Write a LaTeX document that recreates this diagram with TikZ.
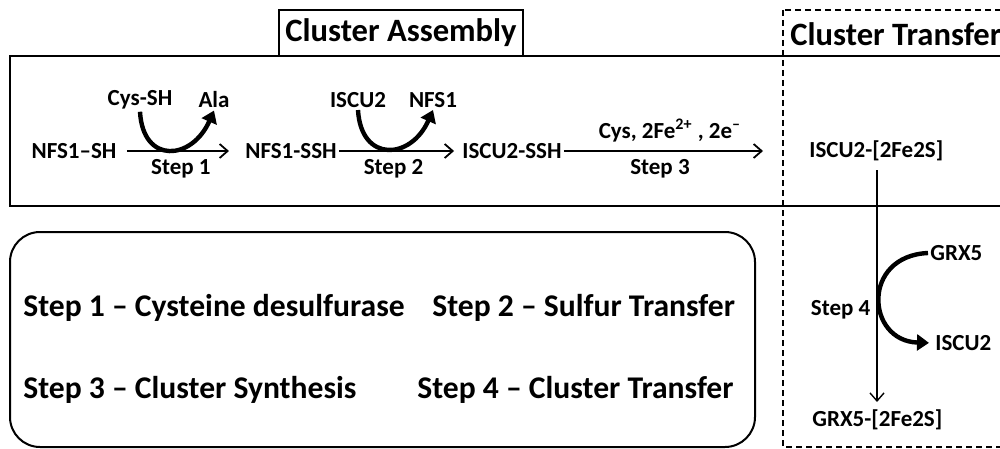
\documentclass[tikz,border=0pt]{standalone}
\usepackage{fontspec}
\setmainfont{Carlito}
\usetikzlibrary{arrows.meta,positioning}

\begin{document}
\begin{tikzpicture}[
  x=0.5pt,y=-0.5pt,
  every node/.style={font=\bfseries\fontsize{11.5}{13}\selectfont,inner sep=1pt},
  head/.style={font=\bfseries\fontsize{16.3}{19}\selectfont},
  key/.style={font=\bfseries\fontsize{15.8}{19}\selectfont,anchor=west,inner sep=0pt},
  frame/.style={draw,line width=1pt},
  rxn/.style={-{Straight Barb[length=4pt,width=7pt]},line width=0.9pt},
  swap/.style={-{Triangle[length=6pt,width=8pt]},line width=2.2pt}
]
\useasboundingbox (0,0) rectangle (1000,449);
\clip (0,0) rectangle (1000,449);

% panels
\draw[frame] (10,56) rectangle (1010,206);
\node[head,frame,minimum width=122pt,minimum height=23pt] (assembly) at (401,33) {Cluster Assembly};
\draw[line width=0.8pt,dash pattern=on 3pt off 2pt] (783,10) rectangle (1010,447);
\node[head,anchor=west] (transfer) at (788,34) {Cluster Transfer};

% cluster assembly
\node (nfsA) at (74,151) {NFS1--SH};
\node (nfsB) at (291,151) {NFS1-SSH};
\node (iscuA) at (512,151) {ISCU2-SSH};
\node[anchor=west] (iscuB) at (807,151) {ISCU2-[2Fe2S]};
\node (cys) at (140,100) {Cys-SH};
\node (ala) at (214,100) {Ala};
\node (iscuC) at (358,100) {ISCU2};
\node (nfsC) at (433,100) {NFS1};

\draw[rxn,shorten <=4pt,shorten >=7pt] (nfsA) -- node[below=3pt] (step1) {Step 1} (nfsB);
\draw[rxn,shorten <=0pt,shorten >=3pt] (nfsB) -- node[below=3pt,xshift=-3pt] (step2) {Step 2} (iscuA);
\draw[rxn,shorten >=22pt] (iscuA) -- node[above=3pt,xshift=-7.75pt] (metals) {Cys, 2Fe\textsuperscript{2+} , 2e\textsuperscript{--}}
  node[below=3pt,xshift=-12.75pt] (step3) {Step 3} (iscuB);
\draw[swap] (cys.south) .. controls +(3,53) and +(-22,50) .. (ala.south);
\draw[swap] (iscuC.south) .. controls +(3,53) and +(-22,50) .. (nfsC.south);

% cluster transfer
\node[anchor=west] (grxB) at (810,420) {GRX5-[2Fe2S]};
\node[anchor=west] (grxA) at (928,253) {GRX5};
\node[anchor=west] (iscuD) at (933,343) {ISCU2};
\coordinate (drop) at (877,420);
\draw[rxn,line width=0.7pt,shorten <=3.5pt,shorten >=9pt] (iscuB.south -| drop) -- node[pos=0.57,left=2pt] (step4) {Step 4} (drop);
\draw[swap,shorten >=2pt] (grxA.west) .. controls +(-67,3) and +(-67,-2) .. (iscuD.west);

% legend
\draw[frame,rounded corners=15pt] (10,232) rectangle (755,447);
\node[key] (key1) at (23,308) {Step 1 -- Cysteine desulfurase};
\node[key] (key2) at (432,308) {Step 2 -- Sulfur Transfer};
\node[key] (key3) at (23,390) {Step 3 -- Cluster Synthesis};
\node[key] (key4) at (417,390) {Step 4 -- Cluster Transfer};
\end{tikzpicture}
\end{document}
